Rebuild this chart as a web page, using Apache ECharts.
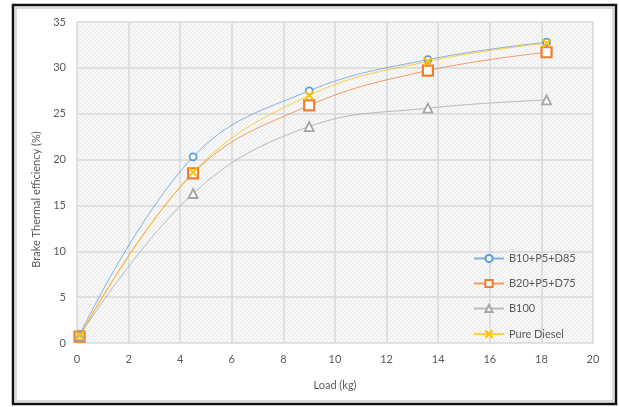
<!DOCTYPE html>
<html>
<head>
<meta charset="utf-8">
<script src="https://cdn.jsdelivr.net/npm/echarts@6/dist/echarts.min.js"></script>
<style>
  html, body { margin: 0; padding: 0; background: #fff; }
</style>
</head>
<body>
<div id="main" style="width: 619px;height:407px;"></div>
<script type="text/javascript">
    // load (kg) and brake thermal efficiency (%)
    var load = [0.1, 4.5, 9.0, 13.6, 18.2];
    var b10 = [0.9, 20.3, 27.5, 30.9, 32.8];
    var b20 = [0.7, 18.5, 25.9, 29.7, 31.7];
    var b100 = [0.8, 16.3, 23.6, 25.6, 26.5];
    var diesel = [0.8, 18.6, 27.0, 30.7, 32.7];
    var names = ['B10+P5+D85', 'B20+P5+D75', 'B100', 'Pure Diesel'];

    function pairs(ys) {
        return load.map(function (x, i) { return [x, ys[i]]; });
    }

    // hatched plot background
    var pc = document.createElement('canvas');
    pc.width = 4; pc.height = 4;
    var ctx = pc.getContext('2d');
    ctx.fillStyle = '#f8f8f8';
    ctx.fillRect(0, 0, 4, 4);
    ctx.fillStyle = '#e8e8e8';
    for (var i = 0; i < 4; i++) ctx.fillRect(i, 3 - i, 1, 1);

    var font = 'Lato, "Open Sans", sans-serif';
    var myChart = echarts.init(document.getElementById('main'));

    function line(name, data, color, symbol, size, bw) {
        return {
            name: name,
            type: 'line',
            smooth: 0.4,
            data: pairs(data),
            symbol: symbol,
            symbolSize: size,
            showAllSymbol: true,
            lineStyle: { color: color, width: 1, opacity: 0.75 },
            itemStyle: { color: symbol.indexOf('path') === 0 ? 'none' : '#fff', borderColor: color, borderWidth: bw },
            emphasis: { disabled: true }
        };
    }

    var option = {
        animation: false,
        textStyle: { fontFamily: font },
        graphic: [
            { type: 'rect', shape: { x: 13, y: 5, width: 603, height: 399 }, style: { fill: 'none', stroke: '#111', lineWidth: 2.5 }, z: 0 },
            { type: 'rect', shape: { x: 16, y: 8, width: 597, height: 393 }, style: { fill: 'none', stroke: '#d0d0d0', lineWidth: 1.5 }, z: 0 }
        ],
        grid: {
            left: 77, right: 26, top: 22, bottom: 64,
            show: true,
            backgroundColor: { image: pc, repeat: 'repeat' },
            borderWidth: 0
        },
        legend: {
            orient: 'vertical',
            left: 468,
            top: 248,
            itemWidth: 30,
            itemHeight: 9,
            itemGap: 14,
            textStyle: { color: '#595959', fontSize: 11, fontFamily: font },
            data: names
        },
        xAxis: {
            type: 'value',
            min: 0, max: 20, interval: 2,
            name: 'Load (kg)',
            nameLocation: 'middle',
            nameGap: 37,
            nameTextStyle: { color: '#595959', fontSize: 11 },
            axisLine: { show: false },
            axisTick: { show: false },
            axisLabel: { color: '#595959', fontSize: 11, margin: 11 },
            splitLine: { lineStyle: { color: '#d9d9d9', width: 1.5 } }
        },
        yAxis: {
            type: 'value',
            min: 0, max: 35, interval: 5,
            name: 'Brake Thermal efficiency (%)',
            nameLocation: 'middle',
            nameGap: 33,
            nameTextStyle: { color: '#595959', fontSize: 11, padding: [0, 34, 0, 0] },
            axisLine: { show: false },
            axisTick: { show: false },
            axisLabel: { color: '#595959', fontSize: 11, margin: 11 },
            splitLine: { lineStyle: { color: '#d9d9d9', width: 1.5 } }
        },
        series: [
            line(names[0], b10, '#5b9bd5', 'circle', 7, 1.8),
            line(names[1], b20, '#ed7d31', 'rect', 10, 2.2),
            line(names[2], b100, '#a5a5a5', 'triangle', 9, 1.8),
            line(names[3], diesel, '#ffc000', 'path://M0,0L10,10M10,0L0,10', 8, 2)
        ]
    };
    myChart.setOption(option);
</script>
</body>
</html>
